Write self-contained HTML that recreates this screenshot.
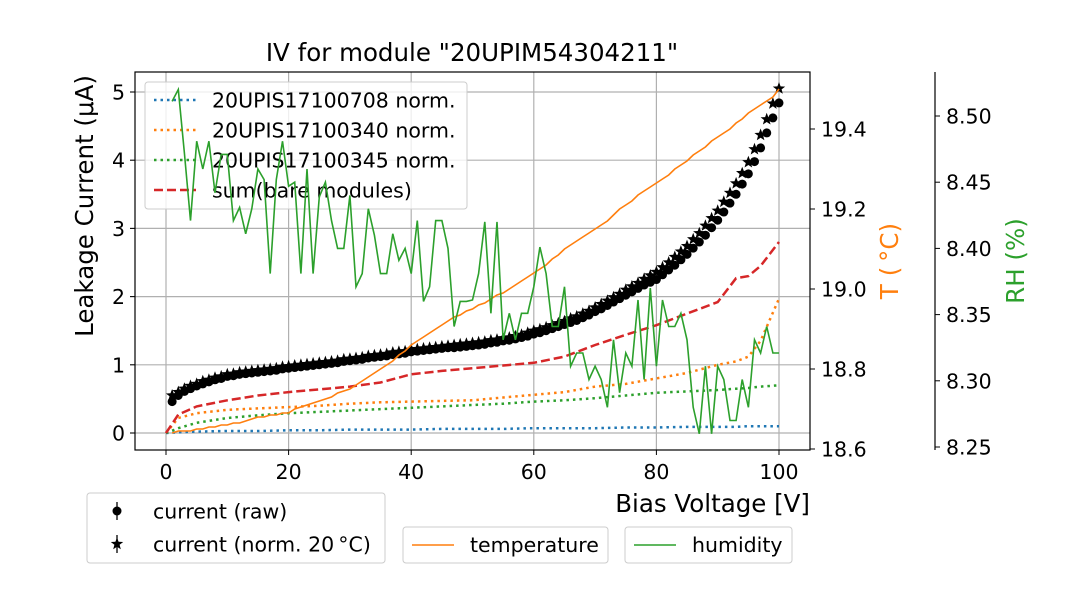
<!DOCTYPE html>
<html><head><meta charset="utf-8"><style>
body{margin:0;background:#fff}
svg{display:block;font-family:"DejaVu Sans","Liberation Sans",sans-serif}
</style></head><body>
<svg id="c" width="1080" height="600" xmlns="http://www.w3.org/2000/svg"></svg>
<script>
const volts=[];for(let i=1;i<=100;i++)volts.push(i);
const currentRaw=[0.46,0.55,0.61,0.65,0.69,0.72,0.75,0.78,0.80,0.83,
0.84,0.86,0.87,0.88,0.89,0.90,0.91,0.92,0.94,0.95,
0.96,0.97,0.98,0.99,1.00,1.01,1.02,1.03,1.05,1.06,
1.07,1.08,1.10,1.11,1.12,1.13,1.15,1.16,1.17,1.19,
1.20,1.21,1.22,1.23,1.24,1.25,1.25,1.26,1.27,1.28,
1.29,1.30,1.32,1.33,1.35,1.36,1.38,1.40,1.42,1.45,
1.47,1.50,1.53,1.56,1.59,1.62,1.65,1.69,1.73,1.78,
1.82,1.87,1.92,1.97,2.02,2.07,2.12,2.17,2.21,2.25,
2.32,2.39,2.46,2.54,2.62,2.71,2.80,2.90,3.01,3.12,
3.24,3.37,3.50,3.65,3.80,3.98,4.18,4.40,4.62,4.84];
const currentNorm=[0.55,0.60,0.65,0.69,0.72,0.76,0.78,0.81,0.83,0.86,
0.87,0.89,0.90,0.91,0.92,0.93,0.94,0.95,0.97,0.98,
0.99,1.00,1.01,1.02,1.03,1.04,1.05,1.06,1.08,1.09,
1.10,1.11,1.13,1.14,1.15,1.16,1.18,1.19,1.20,1.22,
1.23,1.24,1.25,1.26,1.27,1.28,1.29,1.30,1.31,1.32,
1.33,1.34,1.36,1.37,1.39,1.40,1.42,1.44,1.47,1.50,
1.52,1.55,1.58,1.61,1.64,1.68,1.71,1.75,1.79,1.84,
1.89,1.94,1.99,2.04,2.10,2.15,2.20,2.26,2.31,2.36,
2.43,2.50,2.58,2.66,2.74,2.84,2.93,3.04,3.15,3.26,
3.39,3.52,3.66,3.81,3.97,4.16,4.37,4.60,4.83,5.05];
const humidity=[8.511,8.520,8.472,8.421,8.481,8.460,8.481,8.442,8.471,8.471,
8.421,8.431,8.411,8.430,8.460,8.452,8.381,8.452,8.481,8.447,
8.450,8.381,8.460,8.381,8.439,8.450,8.421,8.400,8.400,8.440,
8.371,8.381,8.430,8.410,8.381,8.381,8.411,8.391,8.400,8.381,
8.421,8.360,8.371,8.421,8.421,8.400,8.341,8.360,8.360,8.361,
8.381,8.420,8.351,8.420,8.331,8.351,8.331,8.351,8.351,8.371,
8.401,8.381,8.341,8.341,8.371,8.311,8.321,8.321,8.301,8.311,
8.301,8.280,8.331,8.291,8.321,8.311,8.361,8.301,8.370,8.311,
8.361,8.341,8.341,8.351,8.331,8.280,8.260,8.311,8.260,8.311,
8.301,8.270,8.270,8.301,8.280,8.331,8.321,8.341,8.321,8.321];
const temperature=[18.64,18.645,18.645,18.645,18.65,18.65,18.655,18.655,18.66,18.66,
18.665,18.665,18.67,18.675,18.68,18.68,18.685,18.685,18.69,18.69,
18.70,18.705,18.71,18.715,18.72,18.725,18.73,18.74,18.745,18.75,
18.76,18.77,18.78,18.79,18.80,18.81,18.82,18.835,18.845,18.86,
18.87,18.88,18.89,18.90,18.91,18.92,18.93,18.935,18.945,18.95,
18.96,18.965,18.975,18.985,18.99,19.0,19.01,19.02,19.03,19.04,
19.05,19.06,19.075,19.085,19.10,19.11,19.12,19.13,19.14,19.15,
19.16,19.17,19.185,19.20,19.21,19.22,19.235,19.245,19.255,19.265,
19.275,19.285,19.30,19.31,19.32,19.335,19.345,19.355,19.37,19.38,
19.39,19.40,19.415,19.425,19.44,19.45,19.46,19.47,19.48,19.50];
const lineV=[0,2,5,10,15,20,25,30,35,40,45,50,55,60,65,70,75,80,85,90,93,95,97,100];
const mod708=[0,0.01,0.02,0.03,0.03,0.04,0.04,0.05,0.05,0.05,0.06,0.06,0.06,0.07,0.07,0.07,0.08,0.08,0.09,0.09,0.09,0.10,0.10,0.10];
const mod340=[0,0.22,0.29,0.34,0.36,0.38,0.40,0.43,0.45,0.46,0.47,0.48,0.52,0.56,0.60,0.68,0.72,0.80,0.88,1.0,1.05,1.12,1.35,1.97];
const mod345=[0,0.07,0.15,0.22,0.26,0.29,0.31,0.33,0.35,0.37,0.39,0.41,0.43,0.46,0.48,0.51,0.55,0.59,0.61,0.63,0.65,0.66,0.68,0.70];
const sumBare=[0,0.27,0.39,0.48,0.55,0.60,0.64,0.68,0.74,0.86,0.91,0.95,0.99,1.03,1.12,1.29,1.44,1.58,1.75,1.92,2.27,2.30,2.45,2.80];
const xTicks=[0,20,40,60,80,100];
const yTicks=[0,1,2,3,4,5];
const tTicks=["18.6","18.8","19.0","19.2","19.4"];
const rhTicks=["8.25","8.30","8.35","8.40","8.45","8.50"];

const NS="http://www.w3.org/2000/svg",svg=document.getElementById('c');
const L=135,R=810,T=72,B=450,FS=20.5,FL=24.5;
const xs=v=>166+(v)*6.13;
const ys=v=>433-v*68.2;
const ts=v=>449-(v-18.6)*400;
const hs=v=>447-(v-8.25)*1324;
function el(t,a,p){const e=document.createElementNS(NS,t);for(const k in a)e.setAttribute(k,a[k]);(p||svg).appendChild(e);return e;}
function tx(s,a,p){const e=el('text',a,p);e.textContent=s;return e;}

const grid=el('g',{});
xTicks.forEach(v=>{el('line',{x1:xs(v),x2:xs(v),y1:T,y2:B,stroke:'#b0b0b0','stroke-width':1.2},grid);
 el('line',{x1:xs(v),x2:xs(v),y1:B,y2:B+5,stroke:'#000'});
 const t=tx(String(v),{x:xs(v),y:479,'font-size':FS,'text-anchor':'middle'});
 });
yTicks.forEach(v=>{el('line',{x1:L-5,x2:R,y1:ys(v),y2:ys(v),stroke:'#b0b0b0','stroke-width':1.2},grid);
 el('line',{x1:L-5,x2:L,y1:ys(v),y2:ys(v),stroke:'#000'});
 const t=tx(String(v),{x:L-10,y:ys(v)+7.5,'font-size':FS,'text-anchor':'end'});
 });
tTicks.forEach(s=>{const v=+s;el('line',{x1:R,x2:R+5,y1:ts(v),y2:ts(v),stroke:'#000'});
 const t=tx(s,{x:R+11,y:ts(v)+7.5,'font-size':FS});
 });
el('line',{x1:935,x2:935,y1:T,y2:B,stroke:'#000','stroke-width':1.2});
rhTicks.forEach(s=>{const v=+s;el('line',{x1:935,x2:940,y1:hs(v),y2:hs(v),stroke:'#000'});
 const t=tx(s,{x:946,y:hs(v)+7.5,'font-size':FS});
 });

function path(xa,ya,fx,fy,attrs,name){let d='';xa.forEach((v,i)=>{d+=(i?'L':'M')+fx(v).toFixed(1)+','+fy(ya[i]).toFixed(1);});
 const p=el('path',Object.assign({d,fill:'none'},attrs));return p;}
path(lineV,mod708,xs,ys,{stroke:'#1f77b4','stroke-width':2.5,'stroke-dasharray':'2.5,4'},'module-708-line');
path(lineV,mod340,xs,ys,{stroke:'#ff7f0e','stroke-width':2.5,'stroke-dasharray':'2.5,4'},'module-340-line');
path(lineV,mod345,xs,ys,{stroke:'#2ca02c','stroke-width':2.5,'stroke-dasharray':'2.5,4'},'module-345-line');
path(lineV,sumBare,xs,ys,{stroke:'#d62728','stroke-width':2.5,'stroke-dasharray':'9,4'},'sum-bare-modules-line');
function star(cx,cy,r){let d='';for(let i=0;i<10;i++){const a=-Math.PI/2+i*Math.PI/5,rr=i%2?r*0.42:r;d+=(i?'L':'M')+(cx+rr*Math.cos(a)).toFixed(1)+','+(cy+rr*Math.sin(a)).toFixed(1);}return d+'Z';}
volts.forEach((v,i)=>{const c=el('circle',{cx:xs(v),cy:ys(currentRaw[i]),r:4.5,fill:'#000'});
 });
volts.forEach((v,i)=>{const s=el('path',{d:star(xs(v),ys(currentNorm[i]),6.5),fill:'#000'});
 });

// legend in plot
const lg=el('g',{});
el('rect',{x:145,y:82,width:322,height:127,rx:3,fill:'#fff','fill-opacity':0.8,stroke:'#ccc'},lg);
[['#1f77b4','2.5,4','20UPIS17100708 norm.'],['#ff7f0e','2.5,4','20UPIS17100340 norm.'],['#2ca02c','2.5,4','20UPIS17100345 norm.'],['#d62728','9,4','sum(bare modules)']].forEach((e,i)=>{
 const y=100+i*30;el('line',{x1:154,x2:196,y1:y,y2:y,stroke:e[0],'stroke-width':2.5,'stroke-dasharray':e[1]},lg);
 const t=tx(e[2],{x:212,y:y+7.5,'font-size':FS},lg);});

path(volts,temperature,xs,ts,{stroke:'#ff7f0e','stroke-width':1.6},'temperature-line');
path(volts,humidity,xs,hs,{stroke:'#2ca02c','stroke-width':1.6},'humidity-line');
el('rect',{x:L,y:T,width:R-L,height:B-T,fill:'none',stroke:'#000','stroke-width':1.2});

// bottom legends
const b1=el('g',{});
el('rect',{x:87,y:493,width:298,height:70,rx:3,fill:'#fff',stroke:'#ccc'},b1);
el('line',{x1:117,x2:117,y1:502,y2:520,stroke:'#000','stroke-width':1.3},b1);
el('circle',{cx:117,cy:511,r:4.5,fill:'#000'},b1);
tx('current (raw)',{x:153,y:518.5,'font-size':FS},b1);
el('line',{x1:117,x2:117,y1:535,y2:553,stroke:'#000','stroke-width':1.3},b1);
el('path',{d:star(117,544,6.5),fill:'#000'},b1);
tx('current (norm. 20\u2009\u00B0C)',{x:153,y:551.5,'font-size':FS},b1);
const b2=el('g',{});
el('rect',{x:403,y:527,width:205,height:36,rx:3,fill:'#fff',stroke:'#ccc'},b2);
el('line',{x1:412,x2:454,y1:545,y2:545,stroke:'#ff7f0e','stroke-width':1.6},b2);
tx('temperature',{x:470,y:552,'font-size':FS},b2);
const b3=el('g',{});
el('rect',{x:625,y:527,width:167,height:36,rx:3,fill:'#fff',stroke:'#ccc'},b3);
el('line',{x1:634,x2:676,y1:545,y2:545,stroke:'#2ca02c','stroke-width':1.6},b3);
tx('humidity',{x:692,y:552,'font-size':FS},b3);

// titles
let t;
t=tx('IV for module "20UPIM54304211"',{x:472,y:61,'font-size':FL,'text-anchor':'middle'});
t=tx('Bias Voltage [V]',{x:810,y:512,'font-size':FL,'text-anchor':'end'});
t=tx('Leakage Current (\u03BCA)',{x:0,y:0,'font-size':FL,'text-anchor':'middle',transform:'translate(93,206) rotate(-90)'});
t=tx('T (\u2009\u00B0C)',{x:0,y:0,'font-size':FL,'text-anchor':'middle',fill:'#ff7f0e',transform:'translate(898,261) rotate(-90)'});
t=tx('RH (%)',{x:0,y:0,'font-size':FL,'text-anchor':'middle',fill:'#2ca02c',transform:'translate(1024,261) rotate(-90)'});
</script>
</body></html>
